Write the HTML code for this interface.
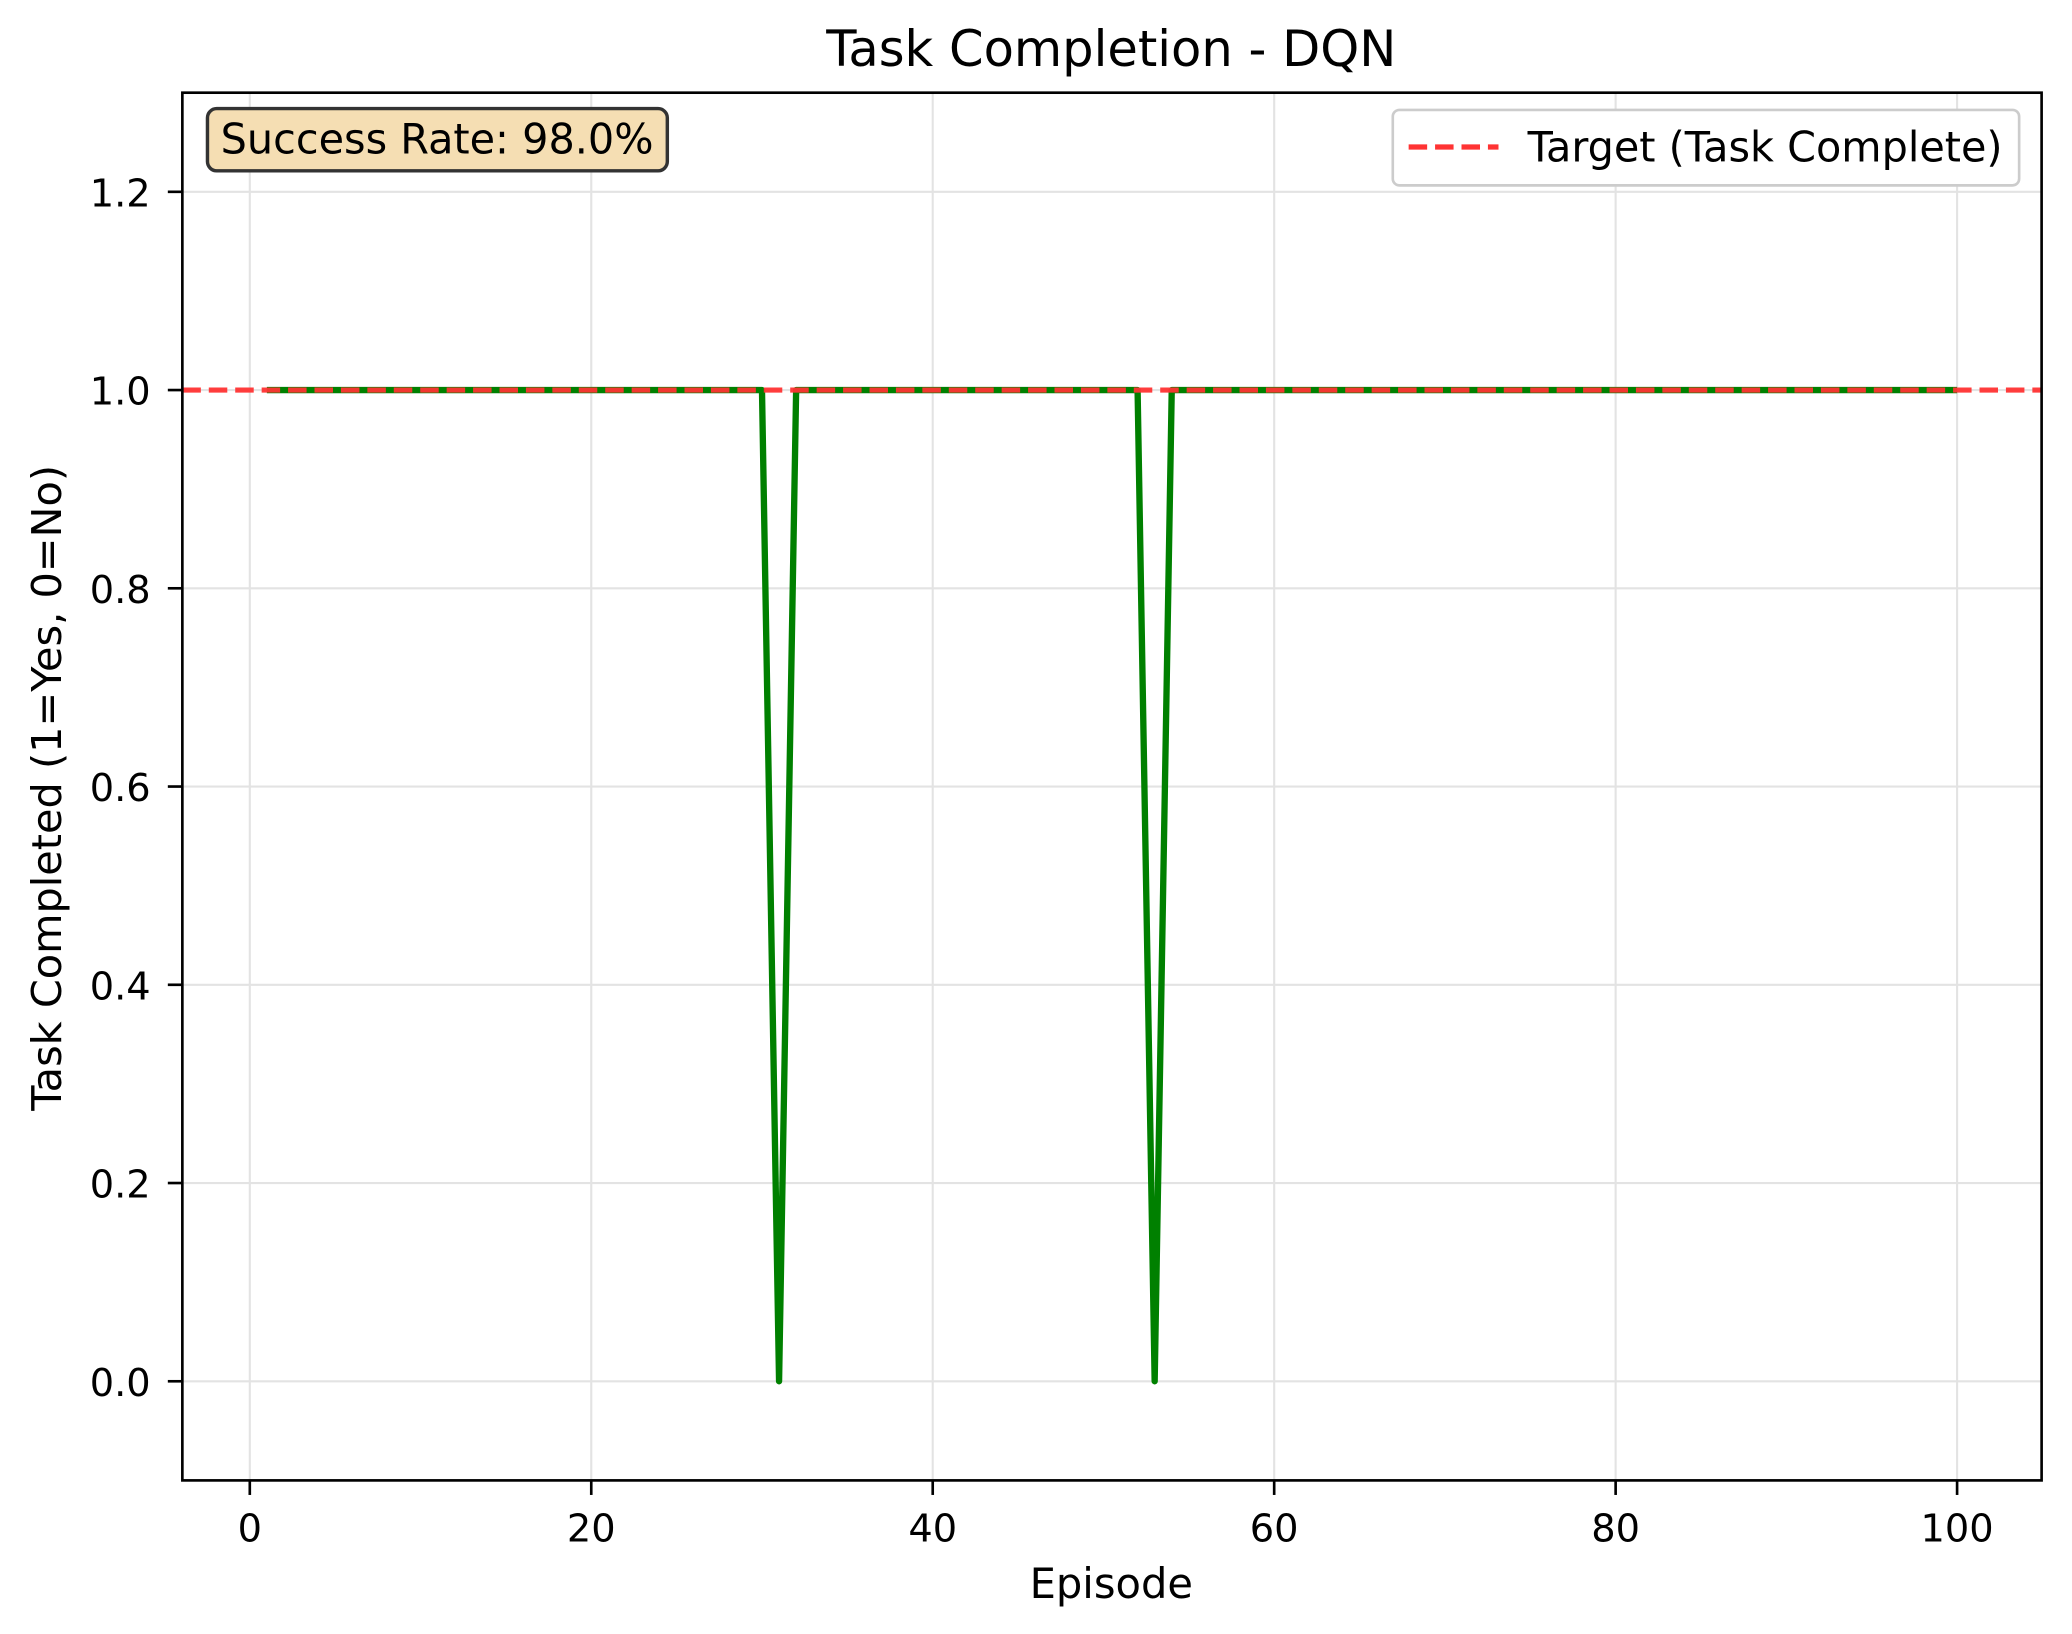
<!DOCTYPE html>
<html><head><meta charset="utf-8"><style>
html,body{margin:0;padding:0;background:#fff;}
svg{display:block;font-family:"DejaVu Sans","Liberation Sans",sans-serif;}
</style></head><body>
<svg id="chart" width="2072" height="1634" viewBox="0 0 1568 1234" preserveAspectRatio="none">
<rect x="0" y="0" width="1568" height="1234" fill="#fff"/>
<g id="grid"></g>
<g id="marks"></g>
<rect x="138" y="70" width="1407" height="1048" fill="none" stroke="#000" stroke-width="2"/>
<g id="ticks"></g>
<text x="841" y="50" text-anchor="middle" font-size="37.5">Task Completion - DQN</text>
<text x="841" y="1207" text-anchor="middle" font-size="31.5">Episode</text>
<text transform="translate(46,595) rotate(-90)" text-anchor="middle" font-size="31.3">Task Completed (1=Yes, 0=No)</text>
<g>
<rect x="157" y="82" width="348" height="47" rx="7" fill="#f5deb3" stroke="#333" stroke-width="2.6"/>
<text x="167" y="116" font-size="31.3">Success Rate: 98.0%</text>
</g>
<g>
<rect x="1054" y="83" width="474" height="57" rx="5" fill="#fff" stroke="#ccc" stroke-width="2"/>
<line x1="1066" y1="111" x2="1134" y2="111" stroke="#ff3333" stroke-width="4" stroke-dasharray="14,6"/>
<text x="1156" y="122" font-size="31.3">Target (Task Complete)</text>
</g>
</svg>
<script>
const episodes = Array.from({length:100},(_, i)=>i+1);
const completed = [1,1,1,1,1,1,1,1,1,1, 1,1,1,1,1,1,1,1,1,1, 1,1,1,1,1,1,1,1,1,1,
 0,1,1,1,1,1,1,1,1,1, 1,1,1,1,1,1,1,1,1,1, 1,1,0,1,1,1,1,1,1,1,
 1,1,1,1,1,1,1,1,1,1, 1,1,1,1,1,1,1,1,1,1, 1,1,1,1,1,1,1,1,1,1, 1,1,1,1,1,1,1,1,1,1];
const xTicks = [0,20,40,60,80,100];
const yTicks = [0.0,0.2,0.4,0.6,0.8,1.0,1.2];
const targetValue = 1.0;

const NS="http://www.w3.org/2000/svg";
const X0=138,X1=1545,Y0=70,Y1=1118;
const xMin=-3.95,xMax=104.95,yMin=-0.1,yMax=1.3;
const sx=v=>X0+(v-xMin)/(xMax-xMin)*(X1-X0);
const sy=v=>Y1-(v-yMin)/(yMax-yMin)*(Y1-Y0);
function mk(tag,attrs,parent){const e=document.createElementNS(NS,tag);for(const k in attrs)e.setAttribute(k,attrs[k]);parent.appendChild(e);return e;}
const grid=document.getElementById('grid'),ticks=document.getElementById('ticks'),marks=document.getElementById('marks');
xTicks.forEach(t=>{
  const g=mk('line',{x1:sx(t),x2:sx(t),y1:Y0,y2:Y1,stroke:'#e3e3e3','stroke-width':1.6},grid);
  
  
  const tk=mk('line',{x1:sx(t),x2:sx(t),y1:Y1,y2:Y1+11,stroke:'#000','stroke-width':2},ticks);
  
  
  const lb=mk('text',{x:sx(t),y:Y1+46,'text-anchor':'middle','font-size':29},ticks);
  lb.textContent=String(t);
  
  
});
yTicks.forEach(t=>{
  const g=mk('line',{x1:X0,x2:X1,y1:sy(t),y2:sy(t),stroke:'#e3e3e3','stroke-width':1.6},grid);
  
  
  const tk=mk('line',{x1:X0-11,x2:X0,y1:sy(t),y2:sy(t),stroke:'#000','stroke-width':2},ticks);
  
  
  const lb=mk('text',{x:X0-24,y:sy(t)+11,'text-anchor':'end','font-size':29},ticks);
  lb.textContent=t.toFixed(1);
  
  
});
const pts=episodes.map((e,i)=>sx(e).toFixed(2)+','+sy(completed[i]).toFixed(2)).join(' ');
const line=mk('polyline',{points:pts,fill:'none',stroke:'#008000','stroke-width':4.8,'stroke-linejoin':'round'},marks);


const tl=mk('line',{x1:X0,x2:X1,y1:sy(targetValue),y2:sy(targetValue),stroke:'#ff3333','stroke-opacity':0.95,'stroke-width':3.8,'stroke-dasharray':'14,6'},marks);


</script>
</body></html>
